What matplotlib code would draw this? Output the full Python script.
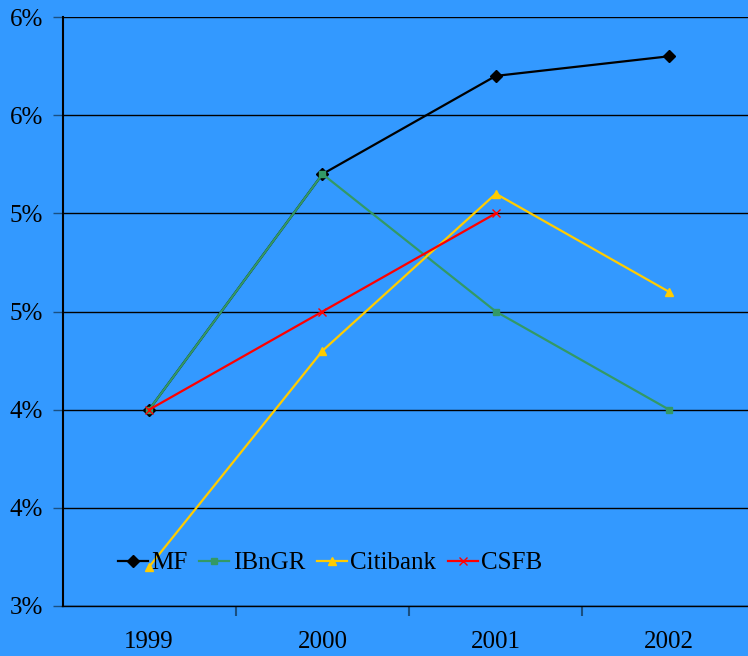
import numpy as np
import matplotlib.pyplot as plt

years = ['1999', '2000', '2001', '2002']
mf = [4.0, 5.2, 5.7, 5.8]
ibngr = [4.0, 5.2, 4.5, 4.0]
citibank = [3.2, 4.3, 5.1, 4.6]
csfb = [4.0, 4.5, 5.0]

yticks = [3.0, 3.5, 4.0, 4.5, 5.0, 5.5, 6.0]
ytick_labels = ['3%', '4%', '4%', '5%', '5%', '6%', '6%']

plt.rcParams['font.family'] = ['Liberation Serif', 'DejaVu Serif']

bg = '#3399FF'
fig = plt.figure(figsize=(7.48, 6.56), dpi=100, facecolor=bg)
ax = fig.add_axes([62.5 / 748, 1 - 606 / 656, 693.3 / 748, 589 / 656])
ax.set_facecolor(bg)

x = np.arange(len(years))
ax.plot(x, mf, color='black', lw=1.6, marker='D', ms=6, label='MF')
ax.plot(x, ibngr, color='#339966', lw=1.6, marker='s', ms=5, label='IBnGR')
ax.plot(x, citibank, color='#FFCC00', lw=1.6, marker='^', ms=6, label='Citibank')
ax.plot(x[:len(csfb)], csfb, color='#FF0000', lw=1.6, marker='x', ms=6, label='CSFB')

ax.set_xlim(-0.5, len(years) - 0.5)
ax.set_ylim(3.0, 6.0)

ax.set_yticks(yticks)
ax.set_yticklabels(ytick_labels, fontsize=18)
ax.tick_params(axis='y', direction='out', length=7, width=1, color='#1a4f80', pad=7)
ax.yaxis.grid(True, color='black', lw=1)
ax.set_axisbelow(True)

# labels at category centres, tick marks at the boundaries between them
ax.set_xticks(x)
ax.set_xticklabels(years, fontsize=18)
ax.set_xticks(np.arange(0.5, len(years) - 0.5, 1.0), minor=True)
ax.tick_params(axis='x', which='major', length=0, pad=18)
ax.tick_params(axis='x', which='minor', direction='out', length=7, width=1.5, color='#1a4f80')

for side in ['top', 'right']:
    ax.spines[side].set_visible(False)
ax.spines['left'].set_color('black')
ax.spines['left'].set_linewidth(1.5)
ax.spines['bottom'].set_color('black')
ax.spines['bottom'].set_linewidth(1)

ax.legend(loc='center left', bbox_to_anchor=(0.08, 0.073), ncol=4, frameon=False,
          fontsize=18, handlelength=1.2, handletextpad=0.15, columnspacing=0.45,
          borderaxespad=0, borderpad=0)

fig.savefig('out.png', dpi=100, facecolor=bg)
